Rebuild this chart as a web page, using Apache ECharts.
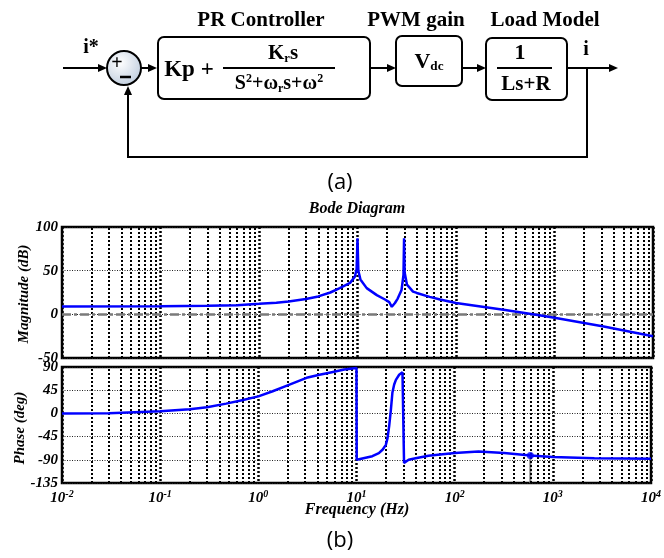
<!DOCTYPE html>
<html>
<head>
<meta charset="utf-8">
<script src="https://cdn.jsdelivr.net/npm/echarts@6/dist/echarts.min.js"></script>
<style>
  html, body { margin: 0; padding: 0; background: #fff; }
  #main { width: 664px; height: 558px; }
</style>
</head>
<body>
<div id="main"></div>
<script>
// magnitude curve (Hz, dB)
const magFreq = [0.01, 0.1, 0.3, 0.6, 1, 1.5, 2, 3, 4, 5.3, 6.6, 8.4, 9.4, 9.8, 10, 10.2, 10.7, 12.4, 15.7, 19,
  21, 22.3, 24, 25.6, 28, 29.3, 29.7, 30.1, 31.8, 36.6, 40, 54, 69, 100, 316, 700, 1000, 3162, 10000];
const magDb = [9, 9.2, 9.8, 10.5, 12, 13.3, 14.8, 17.5, 20.5, 25, 30, 36, 43, 52, 87, 50, 40, 30, 22, 17,
  14, 8.6, 13, 18, 28, 45, 87, 48, 34, 26, 24.5, 20, 17, 13, 5, -1, -4, -14, -25];

// phase curve (Hz, deg)
const phFreq = [0.01, 0.03, 0.1, 0.2, 0.3, 0.47, 0.7, 1, 1.4, 1.9, 3.1, 4.2, 5.6, 7.5, 10, 10.05, 10.3, 14.5, 16.9, 18.5,
  19.9, 20.7, 21.5, 22.4, 23.2, 24.2, 25.2, 27.2, 29.4, 30.4, 30.5, 34, 40, 54, 100, 175, 320, 590, 1000, 2650, 10000];
const phDeg = [0, 0.5, 4, 8, 12, 19, 26, 33, 43, 53, 69, 75, 80, 85, 88, -90, -90, -83, -77, -70,
  -61, -48, -25, 7, 40, 56, 65, 75, 80, 82, -96, -90, -87, -82, -77, -74, -77, -81.5, -84.6, -87, -88];

// data marker on the phase plot
const markerPoint = [590, -81.5];

const magTicks = [-50, 100, 50];   // min, max, interval
const phTicks = [-135, 90, 45];

const serif = 'Liberation Serif';
const chart = echarts.init(document.getElementById('main'));

// minor decade grid lines (2..9 x 10^k)
const minorLines = [];
for (let d = -2; d < 4; d++) {
  for (let m = 2; m < 10; m++) {
    minorLines.push({ xAxis: m * Math.pow(10, d) });
  }
}
const vGridStyle = { color: '#000', width: 2, type: [2, 2] };

function arrow(x1, y1, x2, y2) {
  const a = Math.atan2(y2 - y1, x2 - x1), L = 9, W = 4;
  const bx = x2 - L * Math.cos(a), by = y2 - L * Math.sin(a);
  return [
    { type: 'line', shape: { x1: x1, y1: y1, x2: bx, y2: by }, style: { stroke: '#000', lineWidth: 2 } },
    { type: 'polygon', shape: { points: [[x2, y2], [bx - W * Math.sin(a), by + W * Math.cos(a)], [bx + W * Math.sin(a), by - W * Math.cos(a)]] },
      style: { fill: '#000' } }
  ];
}

function txt(x, y, text, size, opts) {
  return {
    type: 'text', x: x, y: y,
    style: Object.assign({
      text: text, fontFamily: serif, fontWeight: 'bold', fontSize: size,
      fill: '#000', align: 'center', verticalAlign: 'middle'
    }, opts || {})
  };
}

function richFx(size) {
  return {
    a: { fontFamily: serif, fontWeight: 'bold', fontSize: size },
    sub: { fontFamily: serif, fontWeight: 'bold', fontSize: size * 0.6, padding: [size * 0.45, 0, 0, 0] },
    sup: { fontFamily: serif, fontWeight: 'bold', fontSize: size * 0.6, padding: [0, 0, size * 0.5, 0] }
  };
}

const boxStyle = { fill: '#fff', stroke: '#000', lineWidth: 2 };

const diagram = [].concat(
  // titles
  txt(261, 21, 'PR Controller', 21),
  txt(416, 21, 'PWM gain', 21),
  txt(545, 21, 'Load Model', 21),
  // summing junction
  { type: 'circle', shape: { cx: 124, cy: 68, r: 17 },
    style: { fill: new echarts.graphic.RadialGradient(0.4, 0.35, 0.8, [{ offset: 0, color: '#ffffff' }, { offset: 1, color: '#b4c4d8' }]),
      stroke: '#000', lineWidth: 2 } },
  txt(117, 64, '+', 20),
  { type: 'line', shape: { x1: 120, y1: 77, x2: 131, y2: 77 }, style: { stroke: '#000', lineWidth: 2.5 } },
  txt(91, 48, 'i*', 20),
  arrow(63, 68, 107, 68),
  arrow(141, 68, 157, 68),
  // PR controller
  { type: 'rect', shape: { x: 158, y: 37, width: 212, height: 62, r: 6 }, style: boxStyle },
  txt(189, 70, 'Kp +', 23),
  txt(283, 54, '{a|K}{sub|r}{a|s}', 21, { rich: richFx(21) }),
  { type: 'line', shape: { x1: 223, y1: 68, x2: 335, y2: 68 }, style: { stroke: '#000', lineWidth: 2 } },
  txt(279, 84, '{a|S}{sup|2}{a|+ω}{sub|r}{a|s+ω}{sup|2}', 20, { rich: richFx(20) }),
  arrow(370, 68, 396, 68),
  // PWM gain
  { type: 'rect', shape: { x: 396, y: 36, width: 66, height: 50, r: 6 }, style: boxStyle },
  txt(429, 62, '{a|V}{sub|dc}', 22, { rich: richFx(22) }),
  arrow(462, 68, 486, 68),
  // load model
  { type: 'rect', shape: { x: 486, y: 38, width: 81, height: 62, r: 6 }, style: boxStyle },
  txt(520, 53, '1', 22),
  { type: 'line', shape: { x1: 497, y1: 68, x2: 552, y2: 68 }, style: { stroke: '#000', lineWidth: 2 } },
  txt(526, 85, 'Ls+R', 21),
  arrow(567, 68, 618, 68),
  txt(586, 50, 'i', 20),
  // feedback path
  { type: 'polyline', shape: { points: [[587, 68], [587, 157], [128, 157], [128, 94]] },
    style: { stroke: '#000', lineWidth: 2, fill: null } },
  arrow(128, 100, 128, 86),
  // captions
  txt(340, 183, '(a)', 22, { fontFamily: 'Open Sans', fontWeight: 'normal' }),
  txt(340, 541, '(b)', 22, { fontFamily: 'Open Sans', fontWeight: 'normal' }),
  txt(357, 209, 'Bode Diagram', 16, { fontStyle: 'italic' }),
  txt(357, 510, 'Frequency (Hz)', 16, { fontStyle: 'italic' }),
  Object.assign(txt(0, 0, 'Magnitude (dB)', 15, { fontStyle: 'italic' }), { x: 24, y: 294, rotation: Math.PI / 2 }),
  Object.assign(txt(0, 0, 'Phase (deg)', 15, { fontStyle: 'italic' }), { x: 20, y: 428, rotation: Math.PI / 2 })
);

const labelFont = { fontFamily: serif, fontWeight: 'bold', fontStyle: 'italic', fontSize: 15, color: '#000' };

function xAxisFor(idx, showLabel) {
  return {
    type: 'log', gridIndex: idx, min: 0.01, max: 10000, logBase: 10,
    axisLine: { show: false }, axisTick: { show: false },
    splitLine: { show: true, lineStyle: { color: '#000', width: 2.5, type: [2, 2] } },
    axisLabel: {
      show: showLabel, margin: 6, showMinLabel: true, showMaxLabel: true, hideOverlap: false,
      formatter: function (v) { return '{b|10}{s|' + Math.round(Math.log10(v)) + '}'; },
      rich: {
        b: Object.assign({}, labelFont),
        s: Object.assign({}, labelFont, { fontSize: 10, padding: [0, 0, 9, 0] })
      }
    }
  };
}

function yAxisFor(idx, t) {
  return {
    type: 'value', gridIndex: idx, min: t[0], max: t[1], interval: t[2],
    axisLine: { show: false }, axisTick: { show: false },
    splitLine: { show: true, lineStyle: { color: '#222', width: 1, type: [1, 1.5] } },
    axisLabel: Object.assign({ margin: 4 }, labelFont)
  };
}

const option = {
  animation: false,
  backgroundColor: '#fff',
  grid: [
    { left: 62, top: 227, width: 591, height: 131, show: true, borderColor: '#000', borderWidth: 2.5 },
    { left: 62, top: 367, width: 591, height: 116, show: true, borderColor: '#000', borderWidth: 2.5 }
  ],
  xAxis: [xAxisFor(0, false), xAxisFor(1, true)],
  yAxis: [yAxisFor(0, magTicks), yAxisFor(1, phTicks)],
  graphic: diagram,
  series: [
    {
      type: 'line', xAxisIndex: 0, yAxisIndex: 0, showSymbol: false,
      data: magFreq.map((f, i) => [f, magDb[i]]),
      lineStyle: { color: '#0000ff', width: 2.5 },
      markLine: {
        silent: true, symbol: 'none', label: { show: false },
        lineStyle: vGridStyle,
        data: minorLines.concat([{ yAxis: 0, lineStyle: { color: '#7a7a7a', width: 2.5, type: [9, 3, 3, 3] } }])
      },
      z: 5
    },
    {
      type: 'line', xAxisIndex: 1, yAxisIndex: 1, showSymbol: false,
      data: phFreq.map((f, i) => [f, phDeg[i]]),
      lineStyle: { color: '#0000ff', width: 2.5 },
      markLine: {
        silent: true, symbol: 'none', label: { show: false },
        lineStyle: vGridStyle,
        data: minorLines
      },
      z: 5
    },
    {
      type: 'line', xAxisIndex: 1, yAxisIndex: 1, showSymbol: false,
      data: [markerPoint, [markerPoint[0], phTicks[0]]],
      lineStyle: { color: '#808080', width: 2 }, z: 4
    },
    {
      type: 'scatter', xAxisIndex: 1, yAxisIndex: 1, symbolSize: 7,
      data: [markerPoint], itemStyle: { color: '#0000ff' }, z: 6
    }
  ]
};

chart.setOption(option);
</script>
</body>
</html>
